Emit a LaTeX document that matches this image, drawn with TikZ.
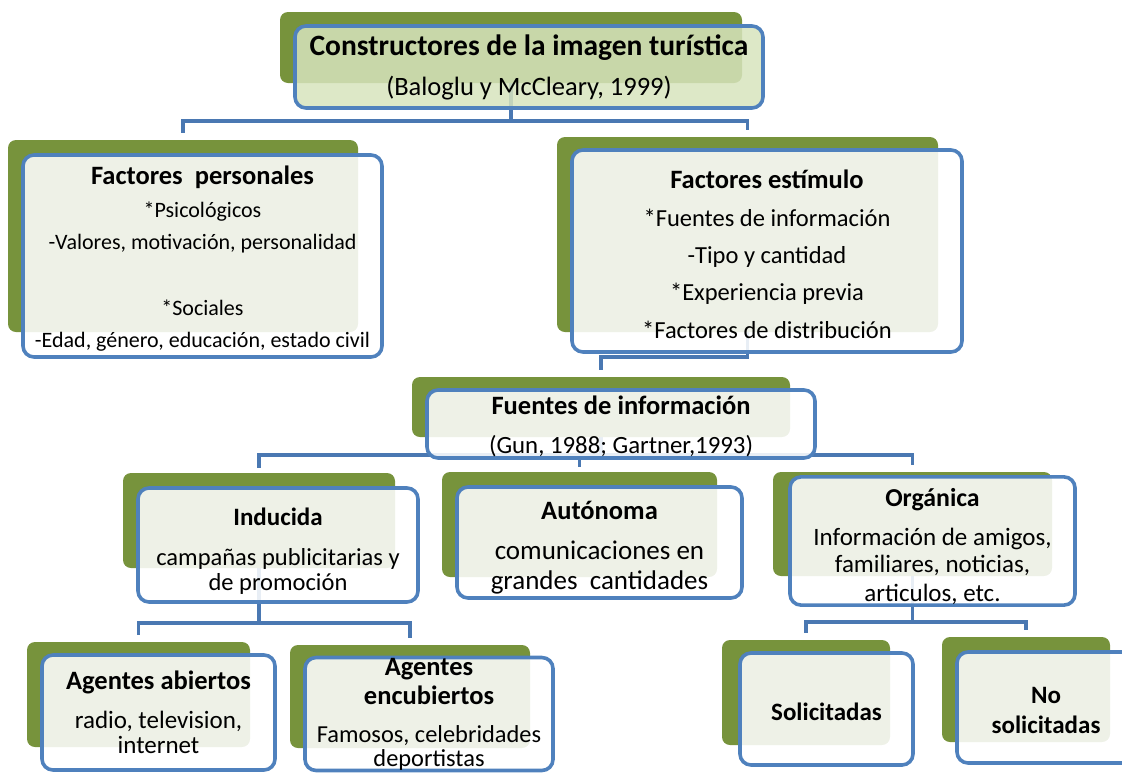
\documentclass[tikz,border=0pt]{standalone}
\usepackage{fontspec}
\setmainfont{Carlito}
\usetikzlibrary{backgrounds, calc, positioning}
\definecolor{olivo}{HTML}{77933C}
\definecolor{azulborde}{HTML}{4F81BD}
\definecolor{azullinea}{HTML}{4A78B2}
\definecolor{verdeclaro}{HTML}{D7E4BD}
\tikzset{
  fondo/.style={
    rectangle, rounded corners=8pt, fill=olivo, inner sep=0pt
  },
  caja/.style={
    rectangle, rounded corners=11pt, draw=azulborde, line width=3.6pt,
    fill=white, fill opacity=0.88, text opacity=1, text=black,
    inner sep=0pt, align=center
  },
  enlace/.style={
    draw=azullinea, line width=3.6pt
  }
}
\newcommand{\titulo}[2][26.5]{{\bfseries\fontsize{#1}{#1}\selectfont #2}}
\newcommand{\tamano}[2]{\fontsize{#1}{#2}\selectfont}

\begin{document}
\begin{tikzpicture}[x=1pt, y=-1pt]

\useasboundingbox (0,0) rectangle (1122,772);

% nivel 1
\node[fondo, minimum width=462pt, minimum height=71pt] (topg) at (511,47.5) {};
\node[caja, fill=verdeclaro, fill opacity=0.85, minimum width=468pt, minimum height=82pt,
  font=\tamano{26.5}{40}] (top) at (529,67)
  {\titulo[29.5]{Constructores de la imagen turística}\\%
   (Baloglu y McCleary, 1999)};

% nivel 2
\node[fondo, minimum width=350pt, minimum height=192pt] (persog) at (183,236) {};
\node[caja, minimum width=359pt, minimum height=202pt,
  font=\tamano{22}{32.6}] (perso) at (202.5,256)
  {\rule{0pt}{24pt}\titulo{Factores~~personales}\\%
   *Psicológicos\\%
   -Valores, motivación, personalidad\\[32.6pt]%
   *Sociales\\%
   -Edad, género, educación, estado civil};

\node[fondo, minimum width=381pt, minimum height=195pt] (estimg) at (747.5,234.5) {};
\node[caja, minimum width=390pt, minimum height=202pt,
  font=\tamano{24.5}{37.3}] (estim) at (767,251)
  {\rule{0pt}{25pt}\titulo{Factores estímulo}\\%
   *Fuentes de información\\%
   -Tipo y cantidad\\%
   *Experiencia previa\\%
   *Factores de distribución};

% nivel 3
\node[fondo, minimum width=378pt, minimum height=60pt] (fuenteg) at (601,407) {};
\node[caja, minimum width=388pt, minimum height=68pt,
  font=\tamano{24.8}{39}] (fuente) at (621,424)
  {\rule{0pt}{24pt}\titulo{Fuentes de información}\\%
   (Gun, 1988; Gartner,1993)};

% nivel 4
\node[fondo, minimum width=272pt, minimum height=95pt] (inducg) at (259,520.5) {};
\node[caja, minimum width=280pt, minimum height=114pt,
  font=\tamano{24.5}{25}] (induc) at (278,545)
  {\rule{0pt}{29pt}\titulo[25]{Inducida}\\[15pt]%
   campañas publicitarias y\\%
   de promoción};

\node[fondo, minimum width=275pt, minimum height=105pt] (autog) at (579.5,524.5) {};
\node[caja, minimum width=285pt, minimum height=111pt,
  font=\tamano{27}{30}] (auto) at (599.5,542.5)
  {\rule{0pt}{28pt}\titulo{Autónoma}\\[10pt]%
   comunicaciones en\\%
   grandes~~cantidades};

\node[fondo, minimum width=279pt, minimum height=104pt] (organg) at (912.5,524) {};
\node[caja, minimum width=285pt, minimum height=112pt,
  font=\tamano{25}{27}] (organ) at (932.5,541)
  {\rule{0pt}{30pt}\titulo[25.8]{Orgánica}\\[12pt]%
   Información de amigos,\\%
   familiares, noticias,\\[2pt]%
   articulos, etc.};

% nivel 5
\node[fondo, minimum width=223pt, minimum height=105pt] (abierg) at (138.5,694.5) {};
\node[caja, minimum width=233pt, minimum height=115pt,
  font=\tamano{25}{25}] (abier) at (158.5,712.5)
  {\titulo{Agentes abiertos}\\[14pt]%
   radio, television,\\%
   internet};

\node[fondo, minimum width=240pt, minimum height=103pt] (encubg) at (410,696.5) {};
\node[caja, minimum width=248pt, minimum height=112pt,
  font=\tamano{24.4}{29}] (encub) at (429,714)
  {\rule{0pt}{18pt}\titulo{Agentes}\\%
   \titulo{encubiertos}\\[9pt]%
   Famosos, celebridades\\[-5pt]%
   deportistas};

\node[fondo, minimum width=168pt, minimum height=105pt] (solicg) at (806,692.5) {};
\node[caja, minimum width=173pt, minimum height=112pt,
  font=\tamano{22}{30}] (solic) at (826.5,709)
  {\rule{0pt}{23pt}\titulo[25]{Solicitadas}};

\node[fondo, minimum width=168pt, minimum height=105pt] (nosolg) at (1026,689.5) {};
\node[caja, minimum width=178pt, minimum height=111pt,
  font=\tamano{22}{30}] (nosol) at (1046,707.5)
  {\rule{0pt}{23pt}\titulo[25]{No}\\%
   \titulo[25]{solicitadas}};

% conectores
\begin{scope}[on background layer]
  \draw[enlace] (topg.south) -- ++(0,38) -| ($(persog.north)+(0,-7)$);
  \draw[enlace] (topg.south) ++(0,38) -| ($(estimg.north)+(0,-7)$);
  \draw[enlace] (estimg.south) -- ++(0,25) -| ($(fuenteg.north)+(0,-7)$);
  \draw[enlace] (fuenteg.south) -- ++(0,18) -| ($(inducg.north)+(0,-5)$);
  \draw[enlace] (fuenteg.south) ++(0,18) -| ($(autog.north)+(0,-5)$);
  \draw[enlace] (fuenteg.south) ++(0,18) -| ($(organg.north)+(0,-7)$);
  \draw[enlace] (inducg.south) -- ++(0,55) -| ($(abierg.north)+(0,-7)$);
  \draw[enlace] (inducg.south) ++(0,55) -| ($(encubg.north)+(0,-7)$);
  \draw[enlace] (organg.south) -- ++(0,46) -| ($(solicg.north)+(0,-7)$);
  \draw[enlace] (organg.south) ++(0,46) -| ($(nosolg.north)+(0,-7)$);
\end{scope}

\end{tikzpicture}
\end{document}
